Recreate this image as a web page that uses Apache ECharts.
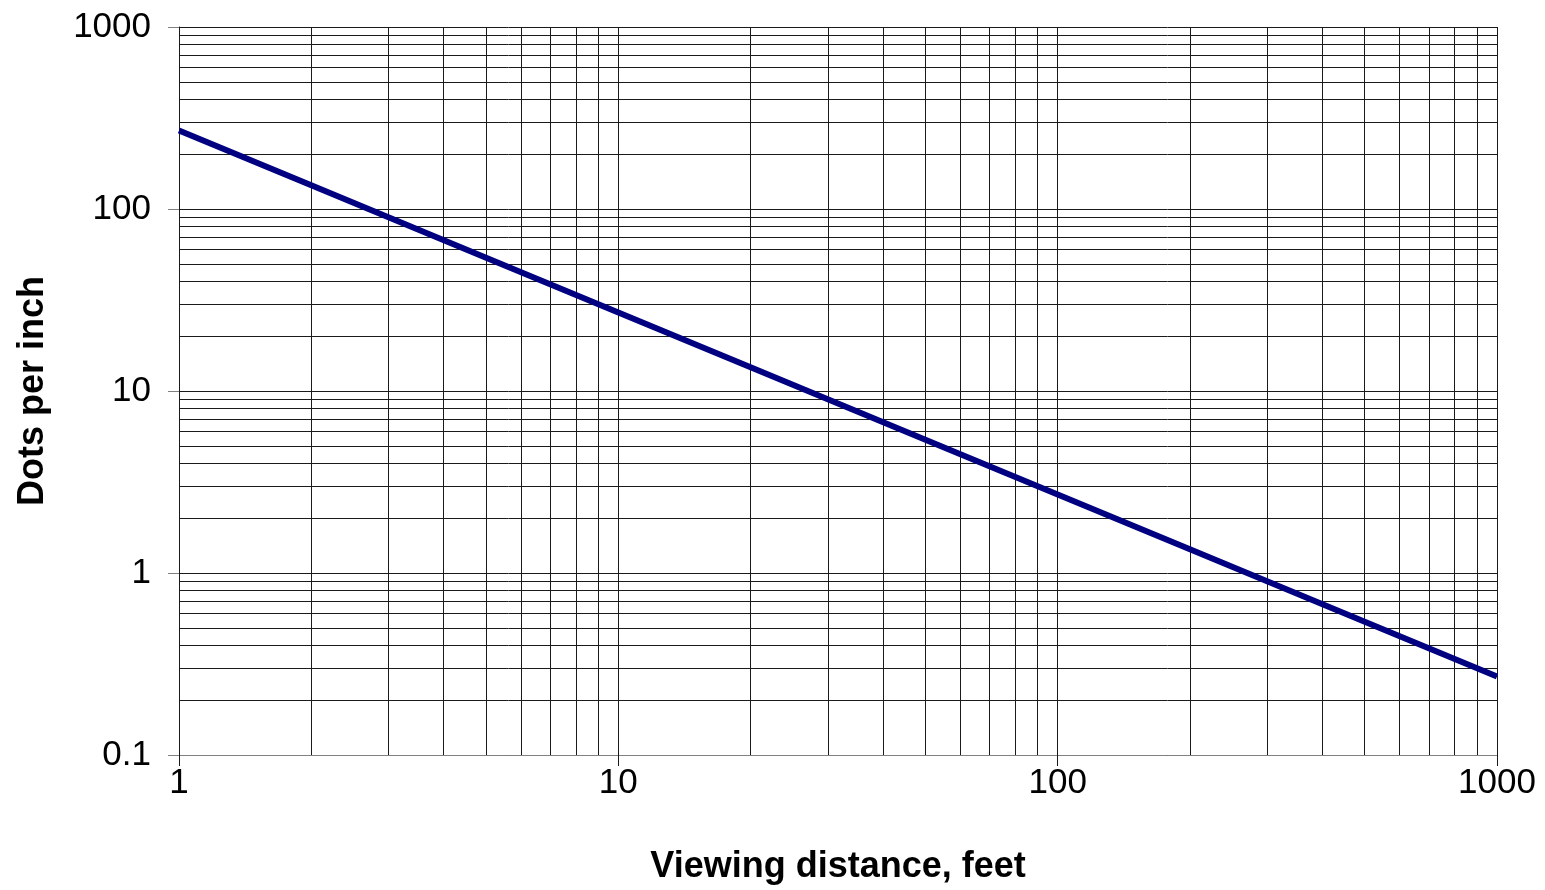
<!DOCTYPE html>
<html>
<head>
<meta charset="utf-8">
<style>
  html, body { margin: 0; padding: 0; background: #fff; }
  #chart { width: 1545px; height: 890px; }
</style>
<script src="https://cdn.jsdelivr.net/npm/echarts@6/dist/echarts.min.js"></script>
</head>
<body>
<div id="chart"></div>
<script>
// Resolution needed to look continuous at a given viewing distance (log-log)
const distanceFt = [1, 2, 5, 10, 20, 50, 100, 200, 500, 1000];
const dotsPerInch = [270, 135, 54, 27, 13.5, 5.4, 2.7, 1.35, 0.54, 0.27];

// Tick labels for each decade
const xTickLabels = ['1', '10', '100', '1000'];
const yTickLabels = ['0.1', '1', '10', '100', '1000'];

// Intermediate (2..9 per decade) grid line positions
const xMinorGrid = [2, 3, 4, 5, 6, 7, 8, 9, 20, 30, 40, 50, 60, 70, 80, 90,
  200, 300, 400, 500, 600, 700, 800, 900];
const yMinorGrid = [0.2, 0.3, 0.4, 0.5, 0.6, 0.7, 0.8, 0.9, 2, 3, 4, 5, 6, 7, 8, 9,
  20, 30, 40, 50, 60, 70, 80, 90, 200, 300, 400, 500, 600, 700, 800, 900];

const FONT = '"Liberation Sans", Arial, Helvetica, sans-serif';
const GRID_COLOR = '#1a1a1a';

function labelFor(list) {
  return function (v) {
    const hit = list.find(function (l) { return Math.abs(Number(l) - v) <= Math.abs(v) * 1e-6; });
    return hit === undefined ? '' : hit;
  };
}

const chart = echarts.init(document.getElementById('chart'), null, { renderer: 'canvas' });

const minorLines = []
  .concat(xMinorGrid.map(function (v) { return { xAxis: v }; }))
  .concat(yMinorGrid.map(function (v) { return { yAxis: v }; }));

chart.setOption({
  animation: false,
  backgroundColor: '#ffffff',
  grid: { left: 179, right: 48, top: 27, bottom: 135, containLabel: false },
  xAxis: {
    type: 'log',
    logBase: 10,
    min: 1,
    max: 1000,
    interval: 1,
    name: 'Viewing distance, feet',
    nameLocation: 'middle',
    nameGap: 94,
    nameTextStyle: { fontFamily: FONT, fontSize: 36, fontWeight: 'bold', color: '#000' },
    axisLine: { show: true, lineStyle: { color: '#808080', width: 1 } },
    axisTick: { show: true, length: 11, lineStyle: { color: '#1a1a1a', width: 1 } },
    axisLabel: { fontFamily: FONT, fontSize: 35, color: '#000', margin: 11, formatter: labelFor(xTickLabels) },
    splitLine: { show: true, lineStyle: { color: GRID_COLOR, width: 1 } }
  },
  yAxis: {
    type: 'log',
    logBase: 10,
    min: 0.1,
    max: 1000,
    interval: 1,
    name: 'Dots per inch',
    nameLocation: 'middle',
    nameGap: 128,
    nameRotate: 90,
    nameTextStyle: { fontFamily: FONT, fontSize: 36, fontWeight: 'bold', color: '#000' },
    axisLine: { show: true, lineStyle: { color: '#1a1a1a', width: 1 } },
    axisTick: { show: true, length: 11, lineStyle: { color: '#808080', width: 1 } },
    axisLabel: { fontFamily: FONT, fontSize: 35, color: '#000', margin: 28, formatter: labelFor(yTickLabels) },
    splitLine: { show: true, lineStyle: { color: GRID_COLOR, width: 1 } }
  },
  series: [
    {
      // grid lines between the decades
      type: 'line',
      data: [],
      silent: true,
      z: 1,
      markLine: {
        silent: true,
        symbol: ['none', 'none'],
        label: { show: false },
        emphasis: { disabled: true },
        lineStyle: { type: 'solid', color: GRID_COLOR, width: 1 },
        data: minorLines
      }
    },
    {
      type: 'line',
      z: 5,
      data: distanceFt.map(function (d, i) { return [d, dotsPerInch[i]]; }),
      showSymbol: false,
      symbol: 'none',
      smooth: false,
      clip: true,
      lineStyle: { color: '#000080', width: 6 }
    }
  ]
});
</script>
</body>
</html>
